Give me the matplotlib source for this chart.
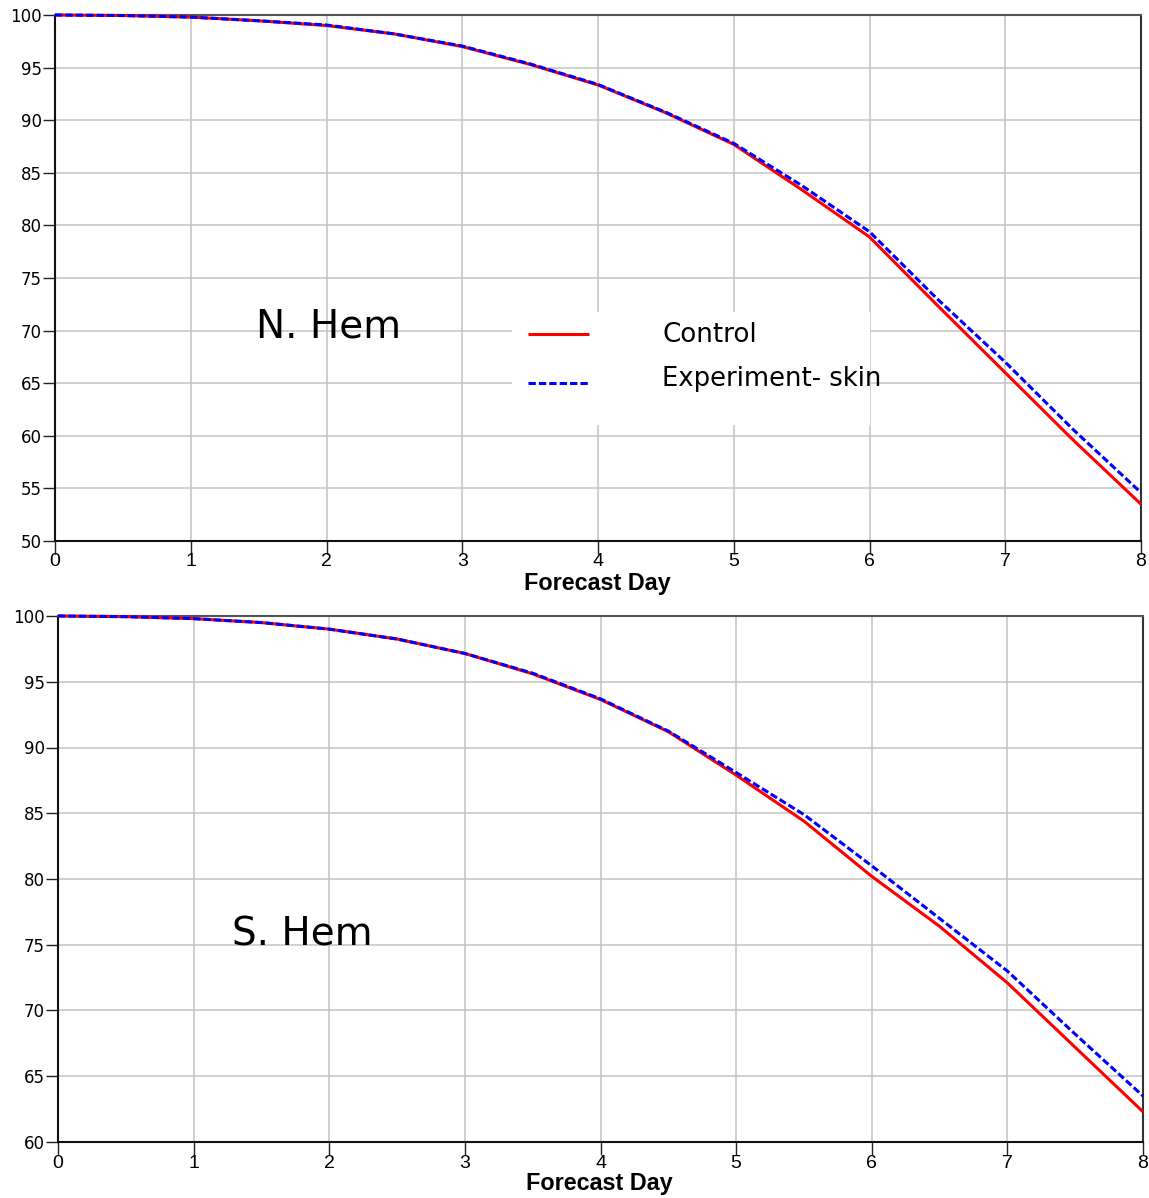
import matplotlib
matplotlib.use("Agg")
import matplotlib.pyplot as plt
from matplotlib import font_manager
from matplotlib.patches import Rectangle
from matplotlib.lines import Line2D

# ---------------- data ----------------
days = [0, 0.5, 1, 1.5, 2, 2.5, 3, 3.5, 4, 4.5, 5, 5.5, 6, 6.5, 7, 7.5, 8]

nh_control = [100.0, 99.95, 99.8, 99.45, 99.0, 98.2, 97.0, 95.3, 93.35, 90.7,
              87.7, 83.4, 78.9, 72.4, 66.0, 59.6, 53.5]
nh_experiment = [100.0, 99.95, 99.8, 99.45, 99.05, 98.2, 97.05, 95.35, 93.4, 90.75,
                 87.8, 83.8, 79.4, 73.0, 67.0, 60.6, 54.6]

sh_control = [100.0, 99.95, 99.8, 99.5, 99.0, 98.25, 97.15, 95.6, 93.65, 91.2,
              87.9, 84.4, 80.2, 76.4, 72.1, 67.2, 62.3]
sh_experiment = [100.0, 99.95, 99.8, 99.5, 99.0, 98.25, 97.15, 95.65, 93.7, 91.25,
                 88.1, 84.9, 81.0, 77.0, 73.0, 68.2, 63.5]

xticks = [0, 1, 2, 3, 4, 5, 6, 7, 8]
nh_yticks = [50, 55, 60, 65, 70, 75, 80, 85, 90, 95, 100]
sh_yticks = [60, 65, 70, 75, 80, 85, 90, 95, 100]
series_labels = ["Control", "Experiment- skin"]
panel_titles = ["N. Hem", "S. Hem"]
xlabel = "Forecast Day"

# ---------------- fonts ----------------
names = {f.name for f in font_manager.fontManager.ttflist}
narrow = "Liberation Sans Narrow" if "Liberation Sans Narrow" in names else "Liberation Sans"

W, H = 1149, 1198
fig = plt.figure(figsize=(W / 100, H / 100), dpi=100)


def fx(px):
    return px / W


def fy(py):
    return 1 - py / H


def make_axes(l, t, r, b):
    return fig.add_axes([fx(l), fy(b), fx(r) - fx(l), fy(t) - fy(b)])


ax1 = make_axes(55, 15, 1141, 541)
ax2 = make_axes(58, 616, 1143, 1142)

RED = "#ff0000"
BLUE = "#0000ff"
LW = 2.2
DASH = (2.4, 1.0)

for ax, ctrl, expt, yt in [(ax1, nh_control, nh_experiment, nh_yticks),
                           (ax2, sh_control, sh_experiment, sh_yticks)]:
    ax.plot(days, ctrl, color=RED, lw=LW, solid_capstyle="butt", zorder=3,
            clip_on=False)
    ax.plot(days, expt, color=BLUE, lw=LW, dashes=DASH, zorder=4,
            clip_on=False)
    ax.set_xlim(0, 8)
    ax.set_ylim(yt[0], yt[-1])
    ax.set_xticks(xticks)
    ax.set_yticks(yt)
    ax.set_xticklabels([str(v) for v in xticks], family=narrow, fontsize=14)
    ax.set_yticklabels([str(v) for v in yt], family="DejaVu Sans", fontsize=12)
    ax.grid(True, color="#c4c4c4", lw=1.1, zorder=0)
    ax.set_axisbelow(True)
    ax.tick_params(axis="y", direction="out", length=8.5, width=1.0, pad=1,
                   color="#222222")
    ax.tick_params(axis="x", direction="out", length=9, width=1.0, pad=0,
                   color="#222222")
    ax.spines["left"].set_color("#111111")
    ax.spines["bottom"].set_color("#111111")
    ax.spines["top"].set_color("#555555")
    ax.spines["right"].set_color("#333333")
    for s in ax.spines.values():
        s.set_linewidth(1.5)

# x-axis labels
fig.text(fx(597.5), fy(590), xlabel, family=narrow, fontweight="bold",
         fontsize=16.8, ha="center", va="baseline")
fig.text(fx(599.5), fy(1190), xlabel, family=narrow, fontweight="bold",
         fontsize=16.8, ha="center", va="baseline")

# panel titles
fig.text(fx(256), fy(337), panel_titles[0], family="DejaVu Sans",
         fontsize=28, ha="left", va="baseline")
fig.text(fx(232), fy(945), panel_titles[1], family="DejaVu Sans",
         fontsize=28, ha="left", va="baseline")

# legend (white box, no frame)
box = Rectangle((fx(512), fy(425)), fx(870) - fx(512), fy(312) - fy(425),
                transform=fig.transFigure, facecolor="white", edgecolor="none",
                zorder=5)
fig.add_artist(box)
fig.add_artist(Line2D([fx(528), fx(589)], [fy(334), fy(334)],
                      transform=fig.transFigure, color=RED, lw=LW,
                      solid_capstyle="butt", zorder=6))
fig.add_artist(Line2D([fx(528), fx(589)], [fy(383), fy(383)],
                      transform=fig.transFigure, color=BLUE, lw=LW,
                      dashes=DASH, zorder=6))
fig.text(fx(662), fy(342), series_labels[0], family="DejaVu Sans",
         fontsize=18.8, ha="left", va="baseline", zorder=7)
fig.text(fx(662), fy(386), series_labels[1], family="DejaVu Sans",
         fontsize=18.6, ha="left", va="baseline", zorder=7)

fig.savefig("out.png", dpi=100, facecolor="white")
